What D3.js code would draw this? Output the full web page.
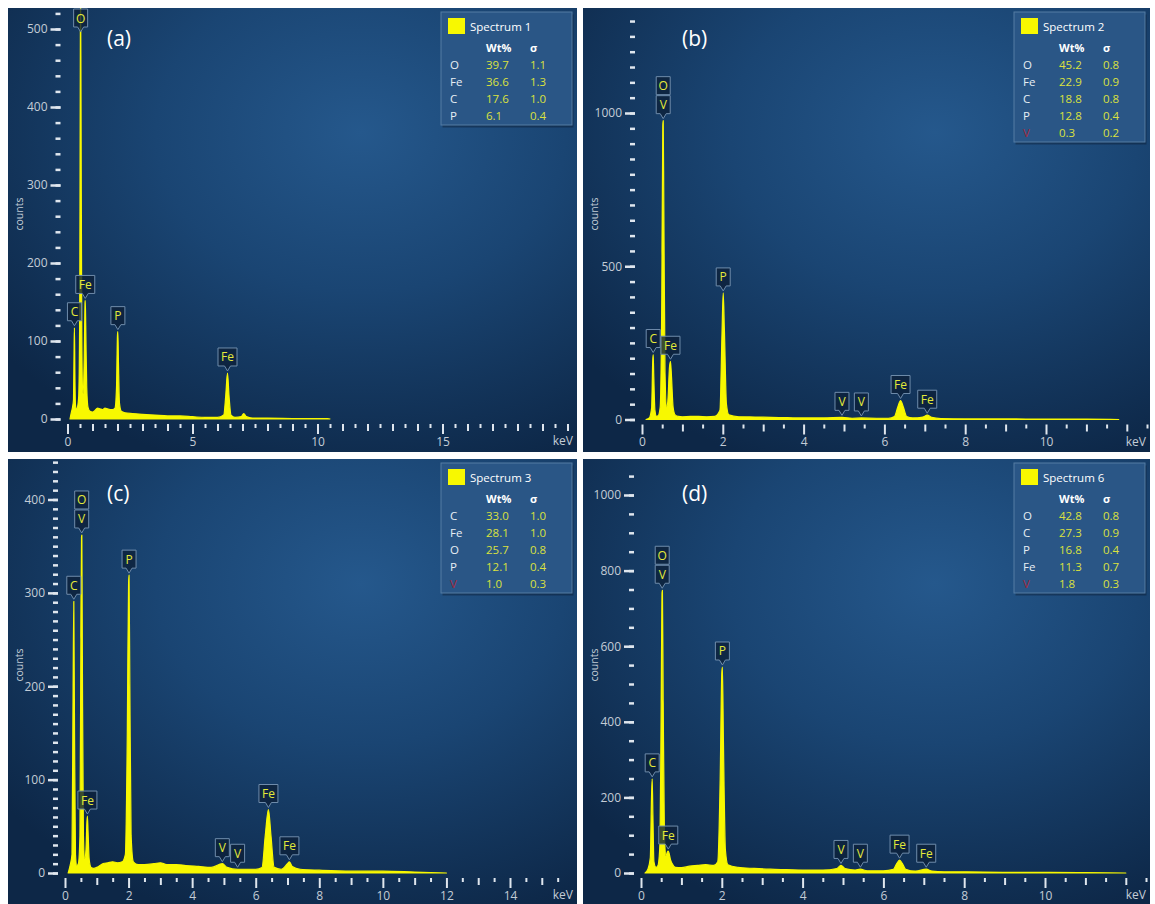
<!DOCTYPE html>
<html>
<head>
<meta charset="utf-8">
<script src="https://cdn.jsdelivr.net/npm/d3@7"></script>
<style>
  body { margin: 0; background: #fff; }
  svg { display: block; font-family: "Open Sans", "Noto Sans", sans-serif; }
</style>
</head>
<body>
<svg id="chart" width="1155" height="904"></svg>
<script>
// spectra: [keV, counts]
const spectrumA = [[0.10,0],[0.15,8],[0.20,15],[0.24,25],[0.265,95],[0.278,117],[0.295,60],[0.32,18],[0.36,12],[0.40,15],[0.45,30],[0.49,150],[0.515,500],[0.525,540],[0.54,420],[0.57,120],[0.60,40],[0.63,32],[0.67,80],[0.70,148],[0.71,152],[0.73,120],[0.77,40],[0.82,15],[0.9,10],[1.0,9],[1.1,11],[1.2,14],[1.3,13],[1.4,12],[1.5,14],[1.6,13],[1.7,12],[1.8,12],[1.9,14],[1.96,40],[2.0,108],[2.015,112],[2.04,70],[2.08,20],[2.15,10],[2.3,8],[2.6,7],[3.0,6],[3.5,5],[4.0,4],[4.5,4],[5.0,3],[5.5,2],[6.0,2],[6.25,5],[6.33,30],[6.40,59],[6.46,30],[6.54,5],[6.7,2],[6.95,3],[7.05,7],[7.15,3],[7.4,1],[8.0,1],[9.0,0.6],[10.4,0.4],[10.5,0]];
const spectrumB = [[0.10,0],[0.18,5],[0.24,40],[0.265,190],[0.277,212],[0.29,150],[0.32,30],[0.36,10],[0.40,12],[0.45,40],[0.49,400],[0.515,960],[0.525,975],[0.54,700],[0.57,150],[0.61,40],[0.64,60],[0.68,170],[0.705,190],[0.73,140],[0.77,40],[0.82,15],[0.9,10],[1.0,9],[1.2,10],[1.4,10],[1.6,9],[1.8,10],[1.93,30],[1.98,280],[2.01,413],[2.04,290],[2.09,50],[2.15,15],[2.4,9],[2.8,8],[3.2,7],[3.6,6],[4.0,5],[4.5,5],[4.95,7],[5.2,4],[5.43,5],[5.8,4],[6.1,4],[6.25,10],[6.33,40],[6.40,62],[6.47,40],[6.55,10],[6.7,5],[6.95,8],[7.06,14],[7.17,7],[7.4,3],[8.0,2],[9.0,2],[10.0,1],[11.0,1],[11.8,0]];
const spectrumC = [[0.10,0],[0.16,8],[0.22,20],[0.255,200],[0.277,291],[0.30,150],[0.33,20],[0.37,8],[0.42,10],[0.47,40],[0.50,250],[0.52,360],[0.53,362],[0.55,200],[0.58,40],[0.62,15],[0.66,25],[0.69,55],[0.705,61],[0.725,45],[0.76,15],[0.82,6],[0.9,5],[1.0,6],[1.1,8],[1.2,10],[1.35,11],[1.5,12],[1.65,11],[1.8,12],[1.9,20],[1.96,150],[2.0,310],[2.015,319],[2.04,200],[2.08,40],[2.15,12],[2.3,9],[2.5,9],[2.8,10],[3.0,11],[3.2,9],[3.5,9],[3.8,8],[4.2,7],[4.6,6],[4.95,10],[5.1,6],[5.43,4],[5.7,4],[6.0,4],[6.2,6],[6.3,40],[6.40,68],[6.48,40],[6.58,6],[6.8,4],[7.0,10],[7.06,12],[7.15,7],[7.4,4],[8.0,3],[9.0,2],[10.0,2],[11.0,1],[12.0,0]];
const spectrumD = [[0.10,0],[0.17,10],[0.23,40],[0.26,200],[0.277,249],[0.295,150],[0.32,30],[0.37,15],[0.42,20],[0.47,80],[0.50,450],[0.52,740],[0.53,748],[0.55,450],[0.58,100],[0.62,45],[0.65,55],[0.675,58],[0.70,50],[0.73,35],[0.77,25],[0.85,15],[1.0,14],[1.2,18],[1.4,20],[1.6,22],[1.8,20],[1.9,30],[1.96,250],[2.0,530],[2.015,545],[2.04,350],[2.09,60],[2.15,22],[2.4,15],[2.8,12],[3.2,10],[3.6,9],[4.0,8],[4.5,8],[4.85,12],[4.95,20],[5.05,12],[5.3,8],[5.43,10],[5.6,6],[6.0,6],[6.25,10],[6.33,25],[6.40,34],[6.47,25],[6.55,10],[6.8,5],[7.06,10],[7.2,5],[7.5,3],[8.0,3],[9.0,2],[10.0,2],[11.0,1],[12.0,0]];

// peak markers: elements stacked top to bottom, energy in keV
const peaksA = [{els:["C"],kev:0.278},{els:["O"],kev:0.525},{els:["Fe"],kev:0.71},{els:["P"],kev:2.015},{els:["Fe"],kev:6.40}];
const peaksB = [{els:["C"],kev:0.277},{els:["O","V"],kev:0.525},{els:["Fe"],kev:0.705},{els:["P"],kev:2.01},{els:["V"],kev:4.95},{els:["V"],kev:5.43},{els:["Fe"],kev:6.40},{els:["Fe"],kev:7.06}];
const peaksC = [{els:["C"],kev:0.277},{els:["O","V"],kev:0.525},{els:["Fe"],kev:0.705},{els:["P"],kev:2.015},{els:["V"],kev:4.95},{els:["V"],kev:5.43},{els:["Fe"],kev:6.40},{els:["Fe"],kev:7.06}];
const peaksD = [{els:["C"],kev:0.277},{els:["O","V"],kev:0.525},{els:["Fe"],kev:0.675},{els:["P"],kev:2.015},{els:["V"],kev:4.95},{els:["V"],kev:5.43},{els:["Fe"],kev:6.40},{els:["Fe"],kev:7.06}];

// quantification tables: element, Wt%, sigma
const legendA = [["O","39.7","1.1"],["Fe","36.6","1.3"],["C","17.6","1.0"],["P","6.1","0.4"]];
const legendB = [["O","45.2","0.8"],["Fe","22.9","0.9"],["C","18.8","0.8"],["P","12.8","0.4"],["V","0.3","0.2"]];
const legendC = [["C","33.0","1.0"],["Fe","28.1","1.0"],["O","25.7","0.8"],["P","12.1","0.4"],["V","1.0","0.3"]];
const legendD = [["O","42.8","0.8"],["C","27.3","0.9"],["P","16.8","0.4"],["Fe","11.3","0.7"],["V","1.8","0.3"]];

const spectrumNames = ["Spectrum 1", "Spectrum 2", "Spectrum 3", "Spectrum 6"];
const panelTags = ["(a)", "(b)", "(c)", "(d)"];

// axis ticks
const yTicksA = [0,100,200,300,400,500], xTicksA = [0,5,10,15];
const yTicksB = [0,500,1000], xTicksB = [0,2,4,6,8,10];
const yTicksC = [0,100,200,300,400], xTicksC = [0,2,4,6,8,10,12,14];
const yTicksD = [0,200,400,600,800,1000], xTicksD = [0,2,4,6,8,10];

// panel geometry (pixels) – layout only
const panels = [
  {left:8,   top:8,   w:569, h:444, xd:[0,20], xr:[67.5,567.5], yd:[0,500],  yr:[419,29],    yMinor:20, yMax:520,  xMax:20,
   spec:spectrumA, peaks:peaksA, legend:legendA, yt:yTicksA, xt:xTicksA},
  {left:583, top:8,   w:567, h:444, xd:[0,10], xr:[642,1046],   yd:[0,1000], yr:[419.5,113], yMinor:50, yMax:1300, xMax:12.5,
   spec:spectrumB, peaks:peaksB, legend:legendB, yt:yTicksB, xt:xTicksB},
  {left:8,   top:459, w:569, h:445, xd:[0,14], xr:[65,510],     yd:[0,400],  yr:[873,499.5], yMinor:10, yMax:440,  xMax:15.5,
   spec:spectrumC, peaks:peaksC, legend:legendC, yt:yTicksC, xt:xTicksC},
  {left:583, top:459, w:567, h:445, xd:[0,10], xr:[641,1045],   yd:[0,1000], yr:[873,495],   yMinor:50, yMax:1050, xMax:12.5,
   spec:spectrumD, peaks:peaksD, legend:legendD, yt:yTicksD, xt:xTicksD}
];

const svg = d3.select("#chart");
const defs = svg.append("defs");

const grad = defs.append("radialGradient")
  .attr("id", "bg")
  .attr("cx", 0.62).attr("cy", 0.28).attr("r", 0.8);
grad.append("stop").attr("offset", "0%").attr("stop-color", "#25588c");
grad.append("stop").attr("offset", "45%").attr("stop-color", "#1a4573");
grad.append("stop").attr("offset", "100%").attr("stop-color", "#0d2747");

const yellow = "#f8f800";
const tickCol = "#dfe6ee";
const labelCol = "#c3ccd6";

panels.forEach((p, i) => {
  const g = svg.append("g");

  defs.append("clipPath").attr("id", "clip" + i)
    .append("rect").attr("x", p.left).attr("y", p.top).attr("width", p.w).attr("height", p.h);

  g.append("rect")
    .attr("x", p.left).attr("y", p.top)
    .attr("width", p.w).attr("height", p.h)
    .attr("fill", "url(#bg)");

  const x = d3.scaleLinear().domain(p.xd).range(p.xr);
  const y = d3.scaleLinear().domain(p.yd).range(p.yr);
  const base = y(0);

  // spectrum
  const area = d3.area()
    .x(d => x(d[0]))
    .y0(base)
    .y1(d => y(d[1]))
    .curve(d3.curveMonotoneX);

  const sg = g.append("g").attr("clip-path", `url(#clip${i})`);
  sg.append("path")
    .datum(p.spec)
    .attr("d", area)
    .attr("fill", yellow)
    .attr("stroke", yellow)
    .attr("stroke-width", 1.2)
    .attr("stroke-linejoin", "round");

  // y axis: minor then major ticks
  const yAxisX = p.xr[0] - 7;
  const yMinorAxis = d3.axisLeft(y)
    .tickValues(d3.range(0, p.yMax + 0.1, p.yMinor))
    .tickSize(5)
    .tickFormat("");
  const ym = g.append("g").attr("transform", `translate(${yAxisX},0)`).call(yMinorAxis);
  ym.select(".domain").remove();
  ym.selectAll("line").attr("stroke", tickCol).attr("stroke-width", 2.5);

  const yAxis = d3.axisLeft(y)
    .tickValues(p.yt)
    .tickSize(10)
    .tickPadding(3)
    .tickFormat(d3.format("d"));
  const ya = g.append("g").attr("transform", `translate(${yAxisX},0)`).call(yAxis);
  ya.select(".domain").remove();
  ya.selectAll("line").attr("stroke", tickCol).attr("stroke-width", 2.5);
  ya.selectAll("text")
    .attr("fill", labelCol)
    .style("font-size", "12px")
    .style("font-family", "'Open Sans', sans-serif");

  g.append("text")
    .attr("transform", `translate(${p.left + 15},${p.top + 206}) rotate(-90)`)
    .attr("text-anchor", "middle")
    .attr("fill", labelCol)
    .style("font-size", "10.5px")
    .text("counts");

  // x axis
  const xAxis = d3.axisBottom(x)
    .tickValues(d3.range(0, p.xMax + 0.01, 0.5))
    .tickSize(8)
    .tickPadding(5)
    .tickFormat(d => p.xt.includes(d) ? d : "");
  const xa = g.append("g").attr("transform", `translate(0,${base + 5})`).call(xAxis);
  xa.select(".domain").remove();
  xa.selectAll("line")
    .attr("stroke", tickCol)
    .attr("stroke-width", 2)
    .attr("y2", d => p.xt.includes(d) ? 10 : (Number.isInteger(d) ? 7 : 4));
  xa.selectAll("text")
    .attr("fill", labelCol)
    .attr("y", 13)
    .style("font-size", "12px")
    .style("font-family", "'Open Sans', sans-serif");

  g.append("text")
    .attr("x", p.left + p.w - 4)
    .attr("y", base + 26)
    .attr("text-anchor", "end")
    .attr("fill", labelCol)
    .style("font-size", "12px")
    .text("keV");

  // panel tag
  g.append("text")
    .attr("x", p.left + 99)
    .attr("y", p.top + (i < 2 ? 38 : 42))
    .attr("fill", "#ffffff")
    .style("font-size", "21px")
    .text(panelTags[i]);

  // peak markers
  const bh = 18, pt = 5;
  p.peaks.forEach(pk => {
    const near = p.spec.filter(d => Math.abs(d[0] - pk.kev) <= 0.03);
    const peak = d3.max(near, d => d[1]);
    const n = pk.els.length;
    const cx = x(pk.kev);
    let tip = y(peak) - 2;
    tip = Math.max(tip, p.top + n * (bh + 1) + pt);
    pk.els.slice().reverse().forEach((el, k) => {
      const bw = el.length > 1 ? 19 : 14;
      const bottom = tip - pt - k * (bh + 1);
      const mg = g.append("g").attr("transform", `translate(${cx},${bottom})`);
      const d = k === 0
        ? `M${-bw/2},${-bh} H${bw/2} V0 H3 L0,${pt} L-3,0 H${-bw/2} Z`
        : `M${-bw/2},${-bh} H${bw/2} V0 H${-bw/2} Z`;
      mg.append("path")
        .attr("d", d)
        .attr("fill", "rgba(12,32,58,0.8)")
        .attr("stroke", "#6f8cab")
        .attr("stroke-width", 1);
      mg.append("text")
        .attr("x", 0).attr("y", -bh / 2 + 4.5)
        .attr("text-anchor", "middle")
        .attr("fill", "#e4ea3a")
        .style("font-size", "12px")
        .text(el);
    });
  });

  // legend table
  const bx = p.left + p.w - 136, by = p.top + 4;
  const lh = 62 + 17 * (p.legend.length - 1);
  const lg = g.append("g").attr("transform", `translate(${bx},${by})`);
  lg.append("rect")
    .attr("x", 1.5).attr("y", 2.5).attr("width", 131).attr("height", lh)
    .attr("fill", "rgba(5,15,30,0.35)");
  lg.append("rect")
    .attr("width", 131).attr("height", lh)
    .attr("fill", "#2a5686")
    .attr("stroke", "#557ca3")
    .attr("stroke-width", 1);
  lg.append("rect")
    .attr("x", 7).attr("y", 6).attr("width", 17).attr("height", 16)
    .attr("fill", yellow);
  lg.append("text")
    .attr("x", 29).attr("y", 19)
    .attr("fill", "#ffffff")
    .style("font-size", "11.5px")
    .text(spectrumNames[i]);
  lg.append("text")
    .attr("x", 45).attr("y", 40)
    .attr("fill", "#ffffff")
    .style("font-size", "11px")
    .style("font-weight", "bold")
    .text("Wt%");
  lg.append("text")
    .attr("x", 89).attr("y", 40)
    .attr("fill", "#ffffff")
    .style("font-size", "11px")
    .style("font-weight", "bold")
    .text("σ");
  p.legend.forEach((r, j) => {
    const ry = 57 + 17 * j;
    lg.append("text").attr("x", 9).attr("y", ry)
      .attr("fill", r[0] === "V" ? "#a3283c" : "#e8eef4")
      .style("font-size", "11.5px").text(r[0]);
    lg.append("text").attr("x", 45).attr("y", ry)
      .attr("fill", "#dbe13e")
      .style("font-size", "11.5px").text(r[1]);
    lg.append("text").attr("x", 89).attr("y", ry)
      .attr("fill", "#dbe13e")
      .style("font-size", "11.5px").text(r[2]);
  });
});
</script>
</body>
</html>
